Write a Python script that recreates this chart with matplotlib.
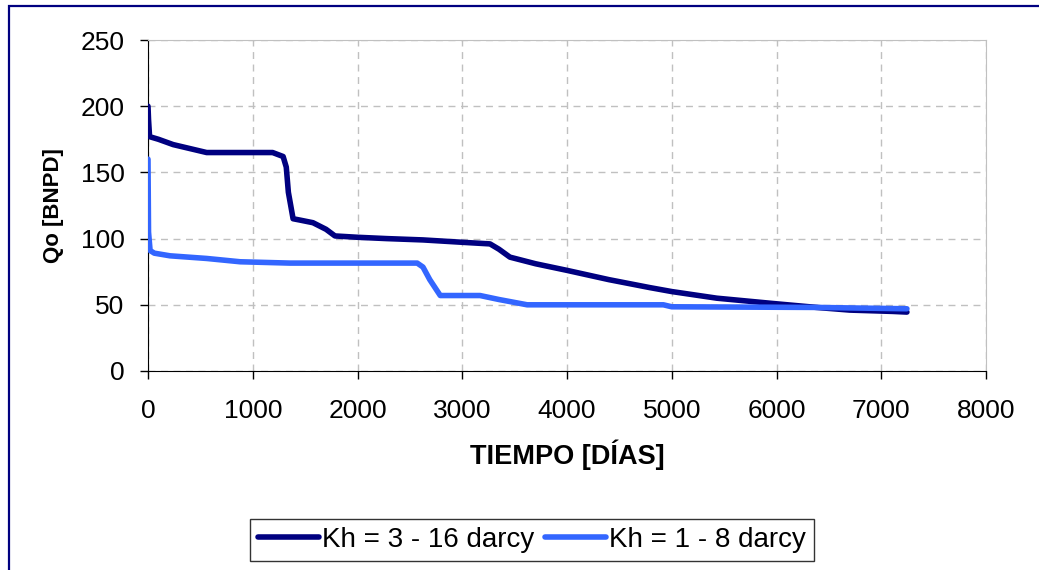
import matplotlib
matplotlib.use("Agg")
import matplotlib.pyplot as plt
from matplotlib.patches import Rectangle

plt.rcParams['font.family'] = ['Liberation Sans', 'DejaVu Sans']

# Data
days_a = [0, 5, 15, 100, 240, 400, 560, 800, 1190, 1290, 1320, 1340, 1385, 1450, 1575,
          1700, 1785, 2000, 2280, 2625, 3045, 3265, 3350, 3455, 3700, 4000, 4400, 4790,
          5000, 5430, 5965, 6385, 6700, 7110, 7245]
qo_a = [200, 190, 177, 175, 171, 168, 165, 165, 165, 162, 154, 135, 115, 114, 112,
        107, 102, 101, 100, 99, 97, 96, 92, 86, 81, 76, 69, 63,
        60, 55, 51, 48, 46, 45, 44.5]
days_b = [0, 5, 20, 60, 210, 560, 880, 1355, 2570, 2625, 2690, 2790, 3170, 3350, 3620,
          4920, 5000, 6400, 7245]
qo_b = [160, 105, 91, 89, 87, 85, 82.5, 81.5, 81.5, 78.5, 69, 57, 57, 54, 50,
        50, 48.5, 48, 47]
label_a = "Kh = 3 - 16 darcy"
label_b = "Kh = 1 - 8 darcy"
xticks = [0, 1000, 2000, 3000, 4000, 5000, 6000, 7000, 8000]
yticks = [0, 50, 100, 150, 200, 250]

W, H = 1039, 570
fig = plt.figure(figsize=(W/100, H/100), dpi=100)
ax = fig.add_axes([148/W, 1-371/H, (986-148)/W, (371-40)/H])

ax.plot(days_a, qo_a, color='#000080', lw=4.0, label=label_a, solid_capstyle='round',
        solid_joinstyle='round', zorder=3)
ax.plot(days_b, qo_b, color='#3366FF', lw=4.0, label=label_b, solid_capstyle='round',
        solid_joinstyle='round', zorder=3)

ax.set_xlim(0, 8000)
ax.set_ylim(0, 250)
ax.set_xticks(xticks)
ax.set_yticks(yticks)
ax.grid(True, color='#c0c0c0', linestyle=(0, (5, 4)), lw=1)
ax.tick_params(direction='out', length=6, width=1, labelsize=19, color='black')
ax.tick_params(axis='x', pad=14)
ax.tick_params(axis='y', pad=11)
for s in ['top', 'right']:
    ax.spines[s].set_color('#c0c0c0')
for s in ['left', 'bottom']:
    ax.spines[s].set_color('black')
ax.set_xlabel('TIEMPO [DÍAS]', fontsize=19.5, fontweight='bold', labelpad=12)
ax.set_ylabel('Qo [BNPD]', fontsize=16, fontweight='bold', labelpad=12)

leg = fig.legend(loc='center', bbox_to_anchor=(532/W, 1-540/H), ncol=2, fontsize=20,
                 frameon=True, fancybox=False, edgecolor='black', handlelength=2.2,
                 handletextpad=0.1, columnspacing=0.4, borderpad=0.3)
leg.get_frame().set_linewidth(1)

fig.patches.append(Rectangle((9/W, -0.1), 2, (H-6)/H + 0.1, transform=fig.transFigure,
                             fill=False, edgecolor='#000080', lw=1.6, zorder=10))

fig.savefig('out.png', dpi=100)
